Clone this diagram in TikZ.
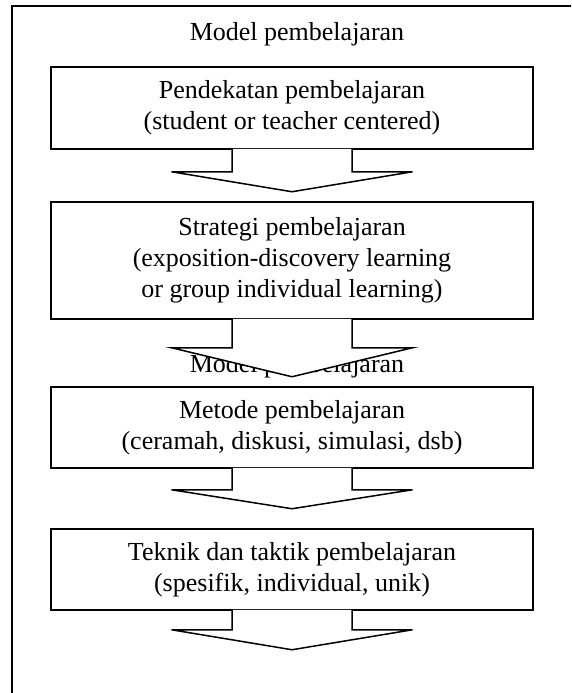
\documentclass[tikz,border=0pt]{standalone}
\usepackage{fontspec}
\setmainfont{Liberation Serif}
\usetikzlibrary{calc}
\tikzset{
  every picture/.style={
    line width=1.5pt,
    x=1pt, y=1pt
  },
  stagebox/.style={
    draw, rectangle, align=center,
    minimum width=482pt, inner sep=0pt,
    font=\fontsize{26}{31}\selectfont
  },
  heading/.style={
    anchor=base, inner sep=0pt,
    font=\fontsize{26}{31}\selectfont
  },
  blockarrow/.style={
    fill=white, line join=miter
  }
}
% stem of half width 60, head of half width 120.5
\newcommand\downarrowfrom[3]{%
  \draw[blockarrow] ($(#1.south)+(-60,1)$) -- ($(#1.south)+(-60,-#2)$)
    -- ($(#1.south)+(-120.5,-#2)$) -- ($(#1.south)+(0,-#2-#3)$)
    -- ($(#1.south)+(120.5,-#2)$) -- ($(#1.south)+(60,-#2)$)
    -- ($(#1.south)+(60,1)$);}

\begin{document}
\begin{tikzpicture}
    \useasboundingbox (0,0) rectangle (571,-693);
    \clip (0,0) rectangle (571,-693);
    \draw (12,-6) rectangle (640,-760);
    \node[heading] (title) at (297,-41) {Model pembelajaran};
    \node[heading] (title2) at (297,-372) {Model pembelajaran};

    \node[stagebox, minimum height=82pt] (pendekatan) at (292,-108)
      {Pendekatan pembelajaran\\(student or teacher centered)};
    \node[stagebox, minimum height=117pt] (strategi) at (292,-260.5)
      {Strategi pembelajaran\\(exposition-discovery learning\\or group individual learning)};
    \node[stagebox, minimum height=81pt] (metode) at (292,-427.5)
      {Metode pembelajaran\\(ceramah, diskusi, simulasi, dsb)};
    \node[stagebox, minimum height=81pt] (teknik) at (292,-569.5)
      {Teknik dan taktik pembelajaran\\(spesifik, individual, unik)};

    \downarrowfrom{pendekatan}{22}{20}
    \downarrowfrom{strategi}{28}{29}
    \downarrowfrom{metode}{21}{19}
    \downarrowfrom{teknik}{19}{20}
\end{tikzpicture}
\end{document}
